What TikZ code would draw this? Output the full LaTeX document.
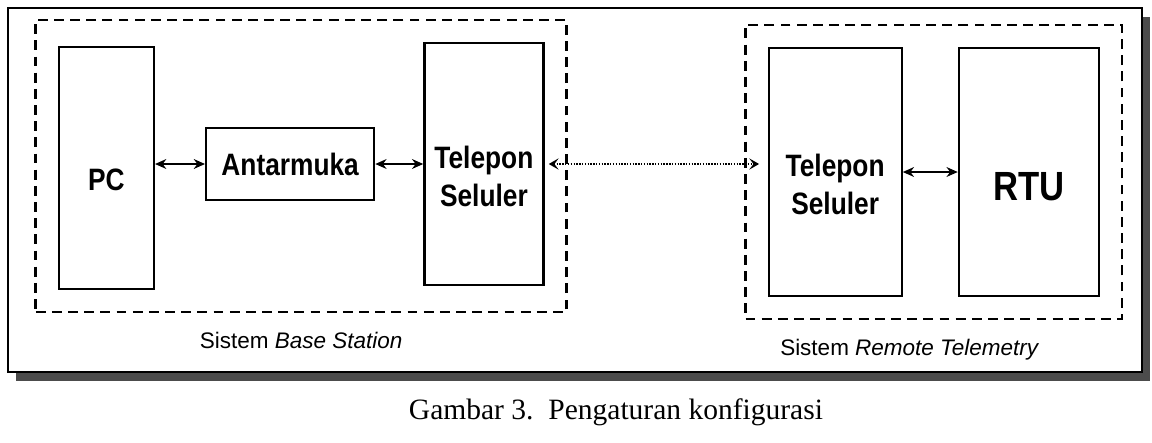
\documentclass[tikz,border=0pt]{standalone}
\usepackage{fontspec}
\setmainfont{Liberation Sans}
\newfontfamily\boxfont[FakeStretch=0.85]{Liberation Sans}
\newfontfamily\capfont{Liberation Serif}
\usetikzlibrary{positioning,arrows.meta,fit}

\begin{document}
\begin{tikzpicture}[
    tall/.style={draw,line width=1.6pt,minimum height=6.05cm,inner sep=0pt},
    box/.style={draw,line width=1.6pt,minimum width=4.2cm,minimum height=1.8cm,inner sep=0pt,font=\boxfont\bfseries\fontsize{22}{27}\selectfont},
    lbl/.style={align=center,font=\boxfont\bfseries\fontsize{22}{27}\selectfont},
    grp/.style={draw,line width=1.9pt,dash pattern=on 7pt off 4.5pt,inner sep=0.55cm},
    grplbl/.style={font=\fontsize{16}{19}\selectfont},
    arr/.style={{Stealth[length=8pt,width=7pt]}-{Stealth[length=8pt,width=7pt]},line width=1.4pt},
    dotarr/.style={{Stealth[length=7pt,width=8pt,inset=3pt]}-{Stealth[length=7pt,width=8pt,inset=3pt]},line width=1.1pt,dash pattern=on 1pt off 1pt,shorten <=3pt,shorten >=6pt}
  ]
    \useasboundingbox[fill=white] (0,0) rectangle (28.8,-11.05);

    % outer frame with its shadow
    \fill[black!70] (0.4,-0.425) rectangle (28.75,-9.525);
    \draw[line width=1.6pt,fill=white] (0.2,-0.2) rectangle (28.55,-9.3);

    % base station side
    \node[tall,minimum width=2.375cm] (pc) at (2.66,-4.2) {};
    \node[box,right=1.25cm of pc,yshift=0.1cm] (ant) {Antarmuka};
    \node[tall,minimum width=2.975cm,right=1.2cm of ant] (telb) {};

    % remote telemetry side
    \node[tall,minimum width=3.325cm,minimum height=6.2cm,right=5.575cm of telb,yshift=-0.2cm] (telr) {};
    \node[tall,minimum width=3.5cm,minimum height=6.2cm,right=1.375cm of telr] (rtu) {};

    % box texts
    \node[lbl] (pctxt) at ([yshift=-0.3cm]pc.center) {PC};
    \node[lbl] (telbtxt) at ([yshift=-0.32cm]telb.center) {Telepon\\Seluler};
    \node[lbl] (telrtxt) at ([yshift=-0.32cm]telr.center) {Telepon\\Seluler};
    \node[lbl,font=\boxfont\bfseries\fontsize{29}{32}\selectfont] (rtutxt) at ([yshift=-0.36cm]rtu.center) {RTU};

    % dashed groups
    \node[grp,fit=(pc)(telb)] (base) {};
    \node[grp,fit=(telr)(rtu)] (remote) {};
    \node[grplbl,below=0.35cm of base] (basetxt) {Sistem \textit{Base Station}};
    \node[grplbl,below=0.35cm of remote,xshift=-0.6cm] (remotetxt) {Sistem \textit{Remote Telemetry}};

    % Arrows
    \draw[arr] (pc.east |- ant.west) -- (ant.west);
    \draw[arr] (ant) -- (telb);
    \draw[dotarr] (telb.east) -- (telb.east -| telr.west);
    \draw[arr] (telr) -- (rtu);

    \node[anchor=west,font=\capfont\fontsize{21}{25}\selectfont] (caption) at (10.1,-10.3) {Gambar 3.\ \ Pengaturan konfigurasi};
  \end{tikzpicture}
\end{document}
